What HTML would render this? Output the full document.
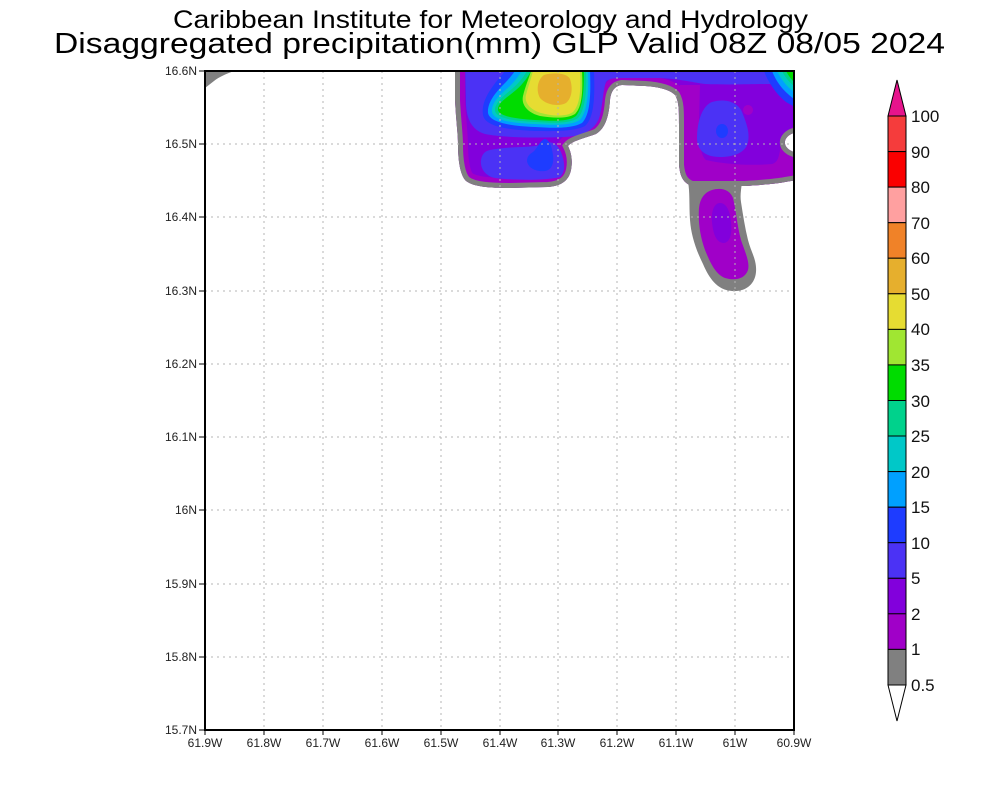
<!DOCTYPE html>
<html><head><meta charset="utf-8"><style>
html,body{margin:0;padding:0;background:#fff;}
svg{display:block;}
text{font-family:"Liberation Sans",sans-serif;}
</style></head><body>
<svg width="1000" height="800" viewBox="0 0 1000 800" xmlns="http://www.w3.org/2000/svg">
<defs>
<clipPath id="plot"><rect x="205" y="71" width="589" height="659"/></clipPath>
<clipPath id="main"><path d="M455,50 L455,100 C456,120 458,135 458,145 C458,160 460,175 466,181 C474,187 490,188 510,188 L548,187 C562,186 569,180 571,170 C573,160 571,152 568,146 C572,141 585,138 596,134 C606,128 609,115 610,100 C611,92 614,86 622,85 L645,86 C660,87 670,90 675,95 C679,102 679,110 679,125 L679,165 C680,176 683,183 692,186 L745,186 C760,185 775,184 785,182 L810,178 L810,153 L794,152 C788,150 784,146 785,141 C786,137 790,134 794,133 L810,133 L810,50 Z"/></clipPath>
</defs>
<rect x="0" y="0" width="1000" height="800" fill="#fff"/>

<g clip-path="url(#plot)">
  <path d="M205,71 L234,71 C226,74 219,77 214,81 L205,88 Z" fill="#808080"/>
  <g clip-path="url(#main)">
    <path d="M455,50 L455,100 C456,120 458,135 458,145 C458,160 460,175 466,181 C474,187 490,188 510,188 L548,187 C562,186 569,180 571,170 C573,160 571,152 568,146 C572,141 585,138 596,134 C606,128 609,115 610,100 C611,92 614,86 622,85 L645,86 C660,87 670,90 675,95 C679,102 679,110 679,125 L679,165 C680,176 683,183 692,186 L745,186 C760,185 775,184 785,182 L810,178 L810,153 L794,152 C788,150 784,146 785,141 C786,137 790,134 794,133 L810,133 L810,50 Z" fill="#8200dc"/>
    <path d="M455,50 L455,100 C456,120 458,135 458,145 C458,160 460,175 466,181 C474,187 490,188 510,188 L548,187 C562,186 569,180 571,170 C573,160 571,152 568,146 C572,141 585,138 596,134 C606,128 609,115 610,100 C611,92 614,86 622,85 L645,86 C660,87 670,90 675,95 C679,102 679,110 679,125 L679,165 C680,176 683,183 692,186 L745,186 C760,185 775,184 785,182 L810,178 L810,153 L794,152 C788,150 784,146 785,141 C786,137 790,134 794,133 L810,133 L810,50 Z" fill="none" stroke="#a000c8" stroke-width="20"/>
    <rect x="680" y="85" width="130" height="105" fill="#a000c8"/>
    <path d="M700,84 L800,84 L800,124 C790,127 783,134 781,145 C779,155 779,162 772,164 C750,166 722,164 706,160 C700,155 699,140 699,120 Z" fill="#8200dc"/>
    <ellipse cx="748" cy="110" rx="5" ry="5" fill="#a000c8"/>
    <path d="M465,60 L466,105 C467,120 472,130 485,134 C505,138 540,138 565,137 C585,136 597,128 600,115 C603,102 603,90 606,82 C609,78 615,78 625,78 L660,78 C680,79 690,82 705,84 C730,85 755,84 770,84 L800,95 L800,60 Z" fill="#4b32f5"/>
    <path d="M712,102 C725,98 738,102 742,112 C746,122 750,132 748,142 C746,152 735,157 720,157 C705,157 697,150 697,138 C697,122 702,106 712,102 Z" fill="#4b32f5"/>
    <ellipse cx="722" cy="131" rx="6" ry="7" fill="#1e3cff"/>
    <path d="M490,150 C510,146 530,148 540,145 C548,140 556,142 560,150 C565,160 566,172 560,177 C545,181 510,180 495,178 C485,176 480,168 481,160 C482,154 485,151 490,150 Z" fill="#4b32f5"/>
    <path d="M533,152 C538,148 540,140 545,139 C550,140 552,148 553,155 C554,163 552,170 545,171 C536,172 528,168 527,161 C527,156 530,154 533,152 Z" fill="#1e3cff"/>
    <path d="M764,60 L764,71 C768,82 776,94 786,102 L800,110 L800,60 Z" fill="#1e3cff"/>
    <path d="M771,60 L772,71 C776,81 782,90 794,99 L800,100 L800,60 Z" fill="#00a0ff"/>
    <path d="M777,60 L777,71 C781,79 786,86 794,92 L800,92 L800,60 Z" fill="#00c8c8"/>
    <path d="M782,60 L782,71 C785,77 789,82 794,86 L800,86 L800,60 Z" fill="#00d28c"/>
    <path d="M786,60 L786,71 C788,75 791,79 794,82 L800,82 L800,60 Z" fill="#00dc00"/>
    <path d="M505,60 L505,71 C503,74 500,77 496,82 C490,90 481,102 483,115 C485,127 510,130 535,131 C552,131 573,132 585,126 C594,118 595,98 594,71 L594,60 Z" fill="#1e3cff"/>
    <path d="M515,60 L515,71 C512,75 509,79 504,84 C497,91 487,102 488,113 C490,123 512,126 535,127 C552,128 571,129 582,123 C590,115 591,96 590,71 L590,60 Z" fill="#00a0ff"/>
    <path d="M522,60 L522,71 C519,75 516,80 510,86 C502,93 491,102 492,112 C494,121 514,123 535,124 C552,125 570,126 580,120 C587,112 589,94 588,71 L588,60 Z" fill="#00c8c8"/>
    <path d="M527,60 L527,71 C524,76 520,82 513,88 C505,95 494,103 495,111 C497,119 516,121 535,122 C552,123 569,124 578,118 C585,110 587,92 586,71 L586,60 Z" fill="#00d28c"/>
    <path d="M531,60 L531,71 C528,77 523,84 516,90 C508,97 497,103 498,110 C500,117 518,119 535,120 C552,121 568,122 576,116 C583,108 584,90 584,71 L584,60 Z" fill="#00dc00"/>
    <path d="M531,60 L531,71 C529,78 525,87 523,96 C521,105 528,113 540,116 C552,118 567,119 575,114 C582,107 583,92 582,71 L582,60 Z" fill="#a0e632"/>
    <path d="M533,60 L533,71 C531,79 528,87 526,95 C524,103 531,110 541,113 C552,116 566,117 573,112 C580,105 581,90 580,71 L580,60 Z" fill="#e6dc32"/>
    <path d="M544,75 C554,72 567,73 570,79 C573,88 572,98 566,103 C559,107 546,105 540,98 C536,91 537,80 544,75 Z" fill="#e6af2d"/>
    <path d="M455,50 L455,100 C456,120 458,135 458,145 C458,160 460,175 466,181 C474,187 490,188 510,188 L548,187 C562,186 569,180 571,170 C573,160 571,152 568,146 C572,141 585,138 596,134 C606,128 609,115 610,100 C611,92 614,86 622,85 L645,86 C660,87 670,90 675,95 C679,102 679,110 679,125 L679,165 C680,176 683,183 692,186 L745,186 C760,185 775,184 785,182 L810,178 L810,153 L794,152 C788,150 784,146 785,141 C786,137 790,134 794,133 L810,133 L810,50 Z" fill="none" stroke="#808080" stroke-width="10"/>
  </g>
  <path d="M688,182 L742,182 C741,190 740,196 741,202 C743,215 745,228 748,240 C751,252 757,260 756,272 C755,284 746,292 732,291 C717,290 709,278 703,264 C696,250 691,235 690,220 C689,205 690,192 688,182 Z" fill="#808080"/>
  <path d="M712,190 C722,187 730,190 733,198 C736,210 737,225 741,240 C745,252 750,262 748,270 C745,279 735,281 725,278 C715,274 710,262 705,250 C700,236 698,222 699,208 C700,198 705,192 712,190 Z" fill="#a000c8"/>
  <path d="M720,203 C727,203 730,212 731,222 C732,232 731,242 724,243 C716,243 713,233 712,222 C711,212 714,203 720,203 Z" fill="#8200dc"/>

  <g stroke="#b4b4b4" stroke-width="1" stroke-dasharray="2,4" fill="none">
    <line x1="264" y1="71" x2="264" y2="730"/>
    <line x1="323" y1="71" x2="323" y2="730"/>
    <line x1="382" y1="71" x2="382" y2="730"/>
    <line x1="441" y1="71" x2="441" y2="730"/>
    <line x1="500" y1="71" x2="500" y2="730"/>
    <line x1="558" y1="71" x2="558" y2="730"/>
    <line x1="617" y1="71" x2="617" y2="730"/>
    <line x1="676" y1="71" x2="676" y2="730"/>
    <line x1="735" y1="71" x2="735" y2="730"/>
    <line x1="205" y1="144" x2="794" y2="144"/>
    <line x1="205" y1="217" x2="794" y2="217"/>
    <line x1="205" y1="291" x2="794" y2="291"/>
    <line x1="205" y1="364" x2="794" y2="364"/>
    <line x1="205" y1="437" x2="794" y2="437"/>
    <line x1="205" y1="510" x2="794" y2="510"/>
    <line x1="205" y1="584" x2="794" y2="584"/>
    <line x1="205" y1="657" x2="794" y2="657"/>
  </g>
</g>

<rect x="205" y="71" width="589" height="659" fill="none" stroke="#000" stroke-width="2"/>

<g stroke="#000" stroke-width="1">
  <line x1="199" y1="71" x2="205" y2="71"/>
  <line x1="199" y1="144" x2="205" y2="144"/>
  <line x1="199" y1="217" x2="205" y2="217"/>
  <line x1="199" y1="291" x2="205" y2="291"/>
  <line x1="199" y1="364" x2="205" y2="364"/>
  <line x1="199" y1="437" x2="205" y2="437"/>
  <line x1="199" y1="510" x2="205" y2="510"/>
  <line x1="199" y1="584" x2="205" y2="584"/>
  <line x1="199" y1="657" x2="205" y2="657"/>
  <line x1="199" y1="730" x2="205" y2="730"/>
  <line x1="205" y1="730" x2="205" y2="735"/>
  <line x1="264" y1="730" x2="264" y2="735"/>
  <line x1="323" y1="730" x2="323" y2="735"/>
  <line x1="382" y1="730" x2="382" y2="735"/>
  <line x1="441" y1="730" x2="441" y2="735"/>
  <line x1="500" y1="730" x2="500" y2="735"/>
  <line x1="558" y1="730" x2="558" y2="735"/>
  <line x1="617" y1="730" x2="617" y2="735"/>
  <line x1="676" y1="730" x2="676" y2="735"/>
  <line x1="735" y1="730" x2="735" y2="735"/>
  <line x1="794" y1="730" x2="794" y2="735"/>
</g>

<g font-size="12" fill="#222" text-anchor="end">
  <text x="197" y="75">16.6N</text>
  <text x="197" y="148">16.5N</text>
  <text x="197" y="221">16.4N</text>
  <text x="197" y="295">16.3N</text>
  <text x="197" y="368">16.2N</text>
  <text x="197" y="441">16.1N</text>
  <text x="197" y="514">16N</text>
  <text x="197" y="588">15.9N</text>
  <text x="197" y="661">15.8N</text>
  <text x="197" y="734">15.7N</text>
</g>
<g font-size="12" fill="#222" text-anchor="middle">
  <text x="205" y="747">61.9W</text>
  <text x="264" y="747">61.8W</text>
  <text x="323" y="747">61.7W</text>
  <text x="382" y="747">61.6W</text>
  <text x="441" y="747">61.5W</text>
  <text x="500" y="747">61.4W</text>
  <text x="558" y="747">61.3W</text>
  <text x="617" y="747">61.2W</text>
  <text x="676" y="747">61.1W</text>
  <text x="735" y="747">61W</text>
  <text x="794" y="747">60.9W</text>
</g>

<g stroke="#000" stroke-width="1">
  <polygon points="897,80 888,116 906,116" fill="#e6148c"/>
  <rect x="888" y="116" width="18" height="35.6" fill="#f53c3c"/>
  <rect x="888" y="151.6" width="18" height="35.6" fill="#fa0000"/>
  <rect x="888" y="187.1" width="18" height="35.6" fill="#ffa0a0"/>
  <rect x="888" y="222.7" width="18" height="35.6" fill="#f08228"/>
  <rect x="888" y="258.2" width="18" height="35.6" fill="#e6af2d"/>
  <rect x="888" y="293.8" width="18" height="35.6" fill="#e6dc32"/>
  <rect x="888" y="329.4" width="18" height="35.6" fill="#a0e632"/>
  <rect x="888" y="364.9" width="18" height="35.6" fill="#00dc00"/>
  <rect x="888" y="400.5" width="18" height="35.6" fill="#00d28c"/>
  <rect x="888" y="436.0" width="18" height="35.6" fill="#00c8c8"/>
  <rect x="888" y="471.6" width="18" height="35.6" fill="#00a0ff"/>
  <rect x="888" y="507.2" width="18" height="35.6" fill="#1e3cff"/>
  <rect x="888" y="542.7" width="18" height="35.6" fill="#4b32f5"/>
  <rect x="888" y="578.3" width="18" height="35.6" fill="#8200dc"/>
  <rect x="888" y="613.8" width="18" height="35.6" fill="#a000c8"/>
  <rect x="888" y="649.4" width="18" height="35.6" fill="#808080"/>
  <polygon points="888,685 906,685 897,721" fill="#fff"/>
</g>
<g font-size="17" fill="#111">
  <text x="911" y="122">100</text>
  <text x="911" y="158">90</text>
  <text x="911" y="193">80</text>
  <text x="911" y="229">70</text>
  <text x="911" y="264">60</text>
  <text x="911" y="300">50</text>
  <text x="911" y="335">40</text>
  <text x="911" y="371">35</text>
  <text x="911" y="407">30</text>
  <text x="911" y="442">25</text>
  <text x="911" y="478">20</text>
  <text x="911" y="513">15</text>
  <text x="911" y="549">10</text>
  <text x="911" y="584">5</text>
  <text x="911" y="620">2</text>
  <text x="911" y="655">1</text>
  <text x="911" y="691">0.5</text>
</g>

<text x="173" y="28" font-size="25" fill="#000" textLength="635" lengthAdjust="spacingAndGlyphs">Caribbean Institute for Meteorology and Hydrology</text>
<text x="54" y="53" font-size="29" fill="#000" textLength="891" lengthAdjust="spacingAndGlyphs">Disaggregated precipitation(mm) GLP Valid 08Z 08/05 2024</text>
</svg>
</body></html>
